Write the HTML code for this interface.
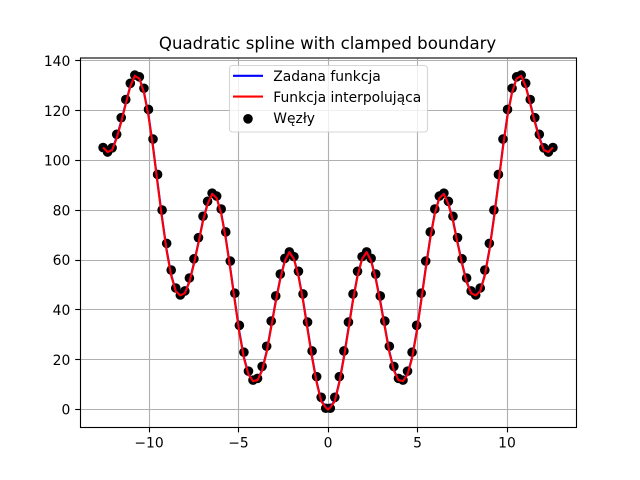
<!DOCTYPE html>
<html>
<head>
<meta charset="utf-8">
<title>Quadratic spline with clamped boundary</title>
<style>
html,body{margin:0;padding:0;background:#fff;width:640px;height:480px;overflow:hidden}
svg{display:block}
text{font-family:"DejaVu Sans","Liberation Sans",sans-serif;fill:#000}
</style>
</head>
<body>
<svg id="chart" xmlns="http://www.w3.org/2000/svg" width="640" height="480" viewBox="0 0 640 480">
<rect x="0" y="0" width="640" height="480" fill="#fff"/>
<text x="327.6" y="49" font-size="16.6" text-anchor="middle">Quadratic spline with clamped boundary</text>
<g id="grid"></g>
<g id="series"></g>
<rect x="80.5" y="58" width="496" height="369.5" fill="none" stroke="#000" stroke-width="1.11"/>
<g id="ticks"></g>
<g>
<rect x="229.5" y="65.5" width="198" height="66.5" rx="3" ry="3" fill="#fff" fill-opacity="0.8" stroke="#ccc" stroke-opacity="0.8" stroke-width="1.11"/>
<line x1="233" y1="75.8" x2="263" y2="75.8" stroke="#0000ff" stroke-width="2.08"/>
<text x="273.3" y="81" font-size="13.89">Zadana funkcja</text>
<line x1="233" y1="96.6" x2="263" y2="96.6" stroke="#ff0000" stroke-width="2.08"/>
<text x="273.3" y="102" font-size="13.89">Funkcja interpolująca</text>
<circle cx="248" cy="118.8" r="4.8" fill="#000"/>
<text x="273.3" y="123" font-size="13.89">Węzły</text>
</g>
</svg>
<script>
const xTicks = [-10, -5, 0, 5, 10];
const xTickLabels = ["\u221210", "\u22125", "0", "5", "10"];
const yTicks = [0, 20, 40, 60, 80, 100, 120, 140];
const yTickLabels = ["0", "20", "40", "60", "80", "100", "120", "140"];

const nodeX = [-12.566,-12.314,-12.060,-11.806,-11.552,-11.298,-11.044,-10.791,-10.537,-10.283,-10.029,-9.775,-9.521,-9.267,-9.013,-8.759,-8.505,-8.251,-7.998,-7.744,-7.490,-7.236,-6.982,-6.728,-6.474,-6.220,-5.966,-5.712,-5.459,-5.205,-4.951,-4.697,-4.443,-4.189,-3.935,-3.681,-3.427,-3.174,-2.920,-2.666,-2.412,-2.158,-1.904,-1.650,-1.396,-1.142,-0.888,-0.635,-0.381,-0.127,0.127,0.381,0.635,0.888,1.142,1.396,1.650,1.904,2.158,2.412,2.666,2.920,3.174,3.427,3.681,3.935,4.189,4.443,4.697,4.951,5.205,5.459,5.712,5.966,6.220,6.474,6.728,6.982,7.236,7.490,7.744,7.998,8.251,8.505,8.759,9.013,9.267,9.521,9.775,10.029,10.283,10.537,10.791,11.044,11.298,11.552,11.806,12.060,12.314,12.566];

const nodeValues = [105.2,103.4,105.1,110.5,117.2,124.5,131,134.3,133.6,129,120.5,108.6,94.4,80.1,66.7,56,48.8,46,47.6,52.8,60.5,69,77.6,83.6,86.9,85.7,80.5,71.3,59.6,46.7,33.8,23,15.4,11.8,12.5,17.3,25.4,35.5,45.6,54.4,60.7,63.3,61.4,55.5,46.4,35.1,23.5,13.2,4.9,0.5,0.5,4.9,13.2,23.5,35.1,46.4,55.5,61.4,63.3,60.7,54.4,45.6,35.5,25.4,17.3,12.5,11.8,15.4,23,33.8,46.7,59.6,71.3,80.5,85.7,86.9,83.6,77.6,69,60.5,52.8,47.6,46,48.8,56,66.7,80.1,94.4,108.6,120.5,129,133.6,134.3,131,124.5,117.2,110.5,105.1,103.4,105.2];

const lineX = [-12.566,-12.314,-12.060,-11.806,-11.552,-11.298,-11.044,-10.791,-10.537,-10.283,-10.029,-9.775,-9.521,-9.267,-9.013,-8.759,-8.505,-8.251,-7.998,-7.744,-7.490,-7.236,-6.982,-6.728,-6.474,-6.220,-5.966,-5.712,-5.459,-5.205,-4.951,-4.697,-4.443,-4.189,-3.935,-3.681,-3.427,-3.174,-2.920,-2.666,-2.412,-2.158,-1.904,-1.650,-1.396,-1.142,-0.888,-0.635,-0.381,-0.127,0,0.127,0.381,0.635,0.888,1.142,1.396,1.650,1.904,2.158,2.412,2.666,2.920,3.174,3.427,3.681,3.935,4.189,4.443,4.697,4.951,5.205,5.459,5.712,5.966,6.220,6.474,6.728,6.982,7.236,7.490,7.744,7.998,8.251,8.505,8.759,9.013,9.267,9.521,9.775,10.029,10.283,10.537,10.791,11.044,11.298,11.552,11.806,12.060,12.314,12.566];

const givenValues = [105.2,103.4,104.4,109.3,115.8,123.1,130,134,133,127.6,118.3,105.7,91.2,77,64.1,54.1,47.7,45.8,46.9,51.4,58.8,67.2,76.1,82.7,86.7,85,78.9,69,56.9,43.9,31.2,21,14.3,11.4,11.9,15.9,23.4,33.4,43.6,52.8,59.8,63.3,60.6,53.9,44.1,32.6,21.2,11.2,3.6,1,0,1,3.6,11.2,21.2,32.6,44.1,53.9,60.6,63.3,59.8,52.8,43.6,33.4,23.4,15.9,11.9,11.4,14.3,21,31.2,43.9,56.9,69,78.9,85,86.7,82.7,76.1,67.2,58.8,51.4,46.9,45.8,47.7,54.1,64.1,77,91.2,105.7,118.3,127.6,133,134,130,123.1,115.8,109.3,104.4,103.4,105.2];

const interpValues = [105.2,103.4,104.2,108.9,115.4,122.7,129.7,134,132.9,127.3,117.9,105.2,90.7,76.5,63.6,53.7,47.5,45.8,46.7,51.1,58.4,66.8,75.7,82.4,86.6,84.9,78.6,68.6,56.4,43.4,30.7,20.6,14,11.4,11.8,15.6,23,32.9,43.1,52.4,59.5,63.2,60.4,53.5,43.7,32.1,20.7,10.8,3.3,0.8,0,0.8,3.3,10.8,20.7,32.1,43.7,53.5,60.4,63.2,59.5,52.4,43.1,32.9,23,15.6,11.8,11.4,14,20.6,30.7,43.4,56.4,68.6,78.6,84.9,86.6,82.4,75.7,66.8,58.4,51.1,46.7,45.8,47.5,53.7,63.6,76.5,90.7,105.2,117.9,127.3,132.9,134,129.7,122.7,115.4,108.9,104.2,103.4,105.2];

const SVG_NS = "http://www.w3.org/2000/svg";
function xScale(v) { return 328 + 17.9 * v; }
function yScale(v) { return 409.5 - 2.49 * v; }
function snap(p) { return Math.floor(p) + 0.5; }
function make(tag, attrs) {
  const el = document.createElementNS(SVG_NS, tag);
  for (const k in attrs) el.setAttribute(k, attrs[k]);
  return el;
}
const gridLayer = document.getElementById("grid");
const tickLayer = document.getElementById("ticks");
const seriesLayer = document.getElementById("series");

xTicks.forEach(function (t, i) {
  const px = snap(xScale(t));
  const g = make("line", {x1: px, y1: 58, x2: px, y2: 427, stroke: "#b0b0b0", "stroke-width": 1.11});
  
  
  gridLayer.appendChild(g);
  const m = make("line", {x1: px, y1: 427.5, x2: px, y2: 432.4, stroke: "#000", "stroke-width": 1.11});
  
  
  tickLayer.appendChild(m);
  const l = make("text", {x: xScale(t), y: 447.5, "font-size": 13.89, "text-anchor": "middle"});
  
  
  l.textContent = xTickLabels[i];
  tickLayer.appendChild(l);
});

yTicks.forEach(function (t, i) {
  const py = snap(yScale(t));
  const g = make("line", {x1: 80, y1: py, x2: 576, y2: py, stroke: "#b0b0b0", "stroke-width": 1.11});
  
  
  gridLayer.appendChild(g);
  const m = make("line", {x1: 75.2, y1: py, x2: 80, y2: py, stroke: "#000", "stroke-width": 1.11});
  
  
  tickLayer.appendChild(m);
  const l = make("text", {x: 70.3, y: yScale(t) + 5.1, "font-size": 13.89, "text-anchor": "end"});
  
  
  l.textContent = yTickLabels[i];
  tickLayer.appendChild(l);
});

nodeX.forEach(function (x, i) {
  const c = make("circle", {cx: xScale(x), cy: yScale(nodeValues[i]), r: 4.8, fill: "#000"});
  
  
  seriesLayer.appendChild(c);
});

function polyPoints(values) {
  return lineX.map(function (x, i) {
    return xScale(x).toFixed(2) + "," + yScale(values[i]).toFixed(2);
  }).join(" ");
}
const blueLine = make("polyline", {points: polyPoints(givenValues), fill: "none", stroke: "#0000ff", "stroke-width": 2.08, "stroke-linejoin": "round"});


seriesLayer.appendChild(blueLine);
const redLine = make("polyline", {points: polyPoints(interpValues), fill: "none", stroke: "#ff0000", "stroke-width": 2.08, "stroke-linejoin": "round"});


seriesLayer.appendChild(redLine);
</script>
</body>
</html>
